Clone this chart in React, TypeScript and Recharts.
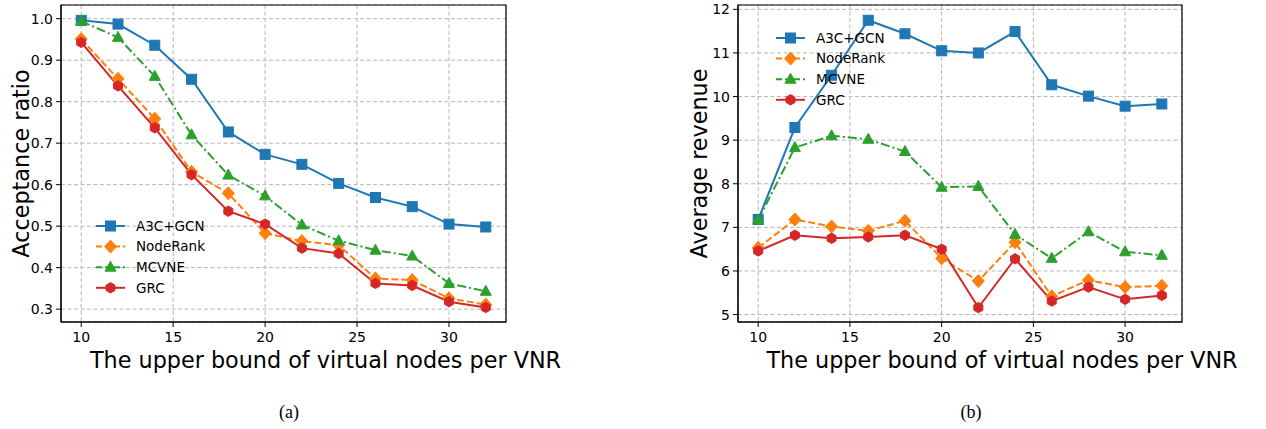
import React from "react";
import { LineChart, Line, XAxis, YAxis, CartesianGrid, ReferenceArea } from "recharts";

const xValues = [10, 12, 14, 16, 18, 20, 22, 24, 26, 28, 30, 32];

const ratioA3C = [0.996, 0.987, 0.936, 0.854, 0.727, 0.673, 0.649, 0.603, 0.569, 0.547, 0.505, 0.498];
const ratioNodeRank = [0.951, 0.855, 0.759, 0.631, 0.579, 0.483, 0.464, 0.454, 0.374, 0.37, 0.326, 0.311];
const ratioMCVNE = [0.994, 0.955, 0.861, 0.72, 0.623, 0.573, 0.503, 0.465, 0.442, 0.428, 0.362, 0.343];
const ratioGRC = [0.943, 0.838, 0.737, 0.624, 0.536, 0.505, 0.447, 0.434, 0.362, 0.357, 0.318, 0.304];

const revenueA3C = [7.18, 9.29, 10.49, 11.75, 11.44, 11.05, 11.0, 11.49, 10.27, 10.01, 9.78, 9.83];
const revenueNodeRank = [6.53, 7.18, 7.02, 6.92, 7.15, 6.29, 5.77, 6.66, 5.42, 5.79, 5.63, 5.66];
const revenueMCVNE = [7.17, 8.83, 9.1, 9.02, 8.74, 7.92, 7.94, 6.84, 6.29, 6.9, 6.44, 6.36];
const revenueGRC = [6.46, 6.82, 6.75, 6.78, 6.82, 6.5, 5.16, 6.28, 5.31, 5.63, 5.35, 5.44];

const xTicks = [10, 15, 20, 25, 30];
const ratioTicks = [0.3, 0.4, 0.5, 0.6, 0.7, 0.8, 0.9, 1.0];
const revenueTicks = [5, 6, 7, 8, 9, 10, 11, 12];

const seriesNames = ["A3C+GCN", "NodeRank", "MCVNE", "GRC"];
const seriesKeys = ["a3c", "noderank", "mcvne", "grc"];
const seriesColors = ["#1f77b4", "#ff7f0e", "#2ca02c", "#d62728"];
const seriesShapes = ["square", "diamond", "triangle", "hexagon"];
const seriesDash = [undefined, "7 3", "9 3 2 3", undefined];

const ratioData = xValues.map((x, i) => ({
  x,
  a3c: ratioA3C[i],
  noderank: ratioNodeRank[i],
  mcvne: ratioMCVNE[i],
  grc: ratioGRC[i],
}));

const revenueData = xValues.map((x, i) => ({
  x,
  a3c: revenueA3C[i],
  noderank: revenueNodeRank[i],
  mcvne: revenueMCVNE[i],
  grc: revenueGRC[i],
}));

const FONT = "'DejaVu Sans', sans-serif";

function Marker({ shape, cx, cy, color }: { shape: string; cx: number; cy: number; color: string }) {
  if (cx == null || cy == null || isNaN(cx) || isNaN(cy)) return null;
  if (shape === "square") {
    return <rect x={cx - 5} y={cy - 5} width={10} height={10} fill={color} stroke={color} strokeWidth={1} />;
  }
  if (shape === "diamond") {
    const p = `${cx},${cy - 6.5} ${cx + 6},${cy} ${cx},${cy + 6.5} ${cx - 6},${cy}`;
    return <polygon points={p} fill={color} stroke={color} strokeWidth={1} />;
  }
  if (shape === "triangle") {
    const p = `${cx},${cy - 6} ${cx + 5.5},${cy + 4} ${cx - 5.5},${cy + 4}`;
    return <polygon points={p} fill={color} stroke={color} strokeWidth={1} />;
  }
  const r = 5.2;
  const pts: string[] = [];
  for (let k = 0; k < 6; k++) {
    const a = (Math.PI / 180) * (-90 + 60 * k);
    pts.push(`${cx + r * Math.cos(a)},${cy + r * Math.sin(a)}`);
  }
  return <polygon points={pts.join(" ")} fill={color} stroke={color} strokeWidth={1} />;
}

function LegendBox({ left, top }: { left: number; top: number }) {
  return (
    <svg width={130} height={90} style={{ position: "absolute", left, top, overflow: "visible" }}>
      {seriesNames.map((name, i) => {
        const y = 11 + i * 20.6;
        return (
          <g key={name}>
            <line x1={6} x2={35} y1={y} y2={y} stroke={seriesColors[i]} strokeWidth={2} strokeDasharray={seriesDash[i] ? "6 3" : undefined} />
            <Marker shape={seriesShapes[i]} cx={20.5} cy={y} color={seriesColors[i]} />
            <text x={46} y={y + 4.8} fontSize={13.5} fontFamily={FONT} fill="#000">
              {name}
            </text>
          </g>
        );
      })}
    </svg>
  );
}

function Panel({
  data,
  yDomain,
  yTicks,
  yLabel,
  yFormat,
  yAxisWidth,
  marginRight,
  yLabelDx,
}: {
  data: any[];
  yDomain: [number, number];
  yTicks: number[];
  yLabel: string;
  yFormat: (v: number) => string;
  yAxisWidth: number;
  marginRight: number;
  yLabelDx: number;
}) {
  const xDomain: [number, number] = [8.9, 33.1];
  return (
    <LineChart width={580} height={380} data={data} margin={{ top: 5, right: marginRight, left: 0, bottom: 0 }}>
      <CartesianGrid stroke="#b5b5b5" strokeDasharray="4 2.5" strokeWidth={1} />
      <ReferenceArea
        x1={xDomain[0]}
        x2={xDomain[1]}
        y1={yDomain[0]}
        y2={yDomain[1]}
        fill="none"
        stroke="#000"
        strokeWidth={1.2}
        ifOverflow="visible"
      />
      <XAxis
        dataKey="x"
        type="number"
        domain={xDomain}
        ticks={xTicks}
        allowDataOverflow
        height={58}
        tickSize={5}
        tickMargin={5}
        axisLine={{ stroke: "#000" }}
        tickLine={{ stroke: "#000" }}
        tick={{ fill: "#000", fontSize: 14, fontFamily: FONT }}
        label={{
          value: "The upper bound of virtual nodes per VNR",
          position: "center",
          dx: 42,
          dy: 9,
          fill: "#000",
          fontSize: 22.3,
          fontFamily: FONT,
        }}
      />
      <YAxis
        type="number"
        domain={yDomain}
        ticks={yTicks}
        allowDataOverflow
        width={yAxisWidth}
        tickSize={5}
        tickMargin={3}
        tickFormatter={yFormat}
        axisLine={{ stroke: "#000" }}
        tickLine={{ stroke: "#000" }}
        tick={{ fill: "#000", fontSize: 14, fontFamily: FONT }}
        label={{
          value: yLabel,
          position: "center",
          angle: -90,
          dx: yLabelDx,
          fill: "#000",
          fontSize: 22.3,
          fontFamily: FONT,
        }}
      />
      {seriesKeys.map((k, i) => (
        <Line
          key={k}
          dataKey={k}
          name={seriesNames[i]}
          type="linear"
          stroke={seriesColors[i]}
          strokeWidth={2}
          strokeDasharray={seriesDash[i]}
          isAnimationActive={false}
          dot={(p: any) => <Marker key={`${k}-${p.index}`} shape={seriesShapes[i]} cx={p.cx} cy={p.cy} color={seriesColors[i]} />}
          activeDot={false}
        />
      ))}
    </LineChart>
  );
}

export default function App() {
  return (
    <div style={{ position: "absolute", left: 0, top: 0, width: 1266, height: 429, background: "#fff", overflow: "hidden" }}>
      <div style={{ position: "absolute", left: 0, top: 0 }}>
        <Panel
          data={ratioData}
          yDomain={[0.269, 1.033]}
          yTicks={ratioTicks}
          yLabel="Acceptance ratio"
          yFormat={(v) => v.toFixed(1)}
          yAxisWidth={61}
          marginRight={74}
          yLabelDx={-9}
        />
      </div>
      <div style={{ position: "absolute", left: 680, top: 0 }}>
        <Panel
          data={revenueData}
          yDomain={[4.83, 12.1]}
          yTicks={revenueTicks}
          yLabel="Average revenue"
          yFormat={(v) => String(v)}
          yAxisWidth={58}
          marginRight={78}
          yLabelDx={-10}
        />
      </div>
      <LegendBox left={90} top={215} />
      <LegendBox left={770} top={27} />
      <div style={{ position: "absolute", left: 264, top: 402, width: 50, textAlign: "center", fontFamily: "'Liberation Serif', serif", fontSize: 18, color: "#000" }}>
        (a)
      </div>
      <div style={{ position: "absolute", left: 946, top: 402, width: 50, textAlign: "center", fontFamily: "'Liberation Serif', serif", fontSize: 18, color: "#000" }}>
        (b)
      </div>
    </div>
  );
}
